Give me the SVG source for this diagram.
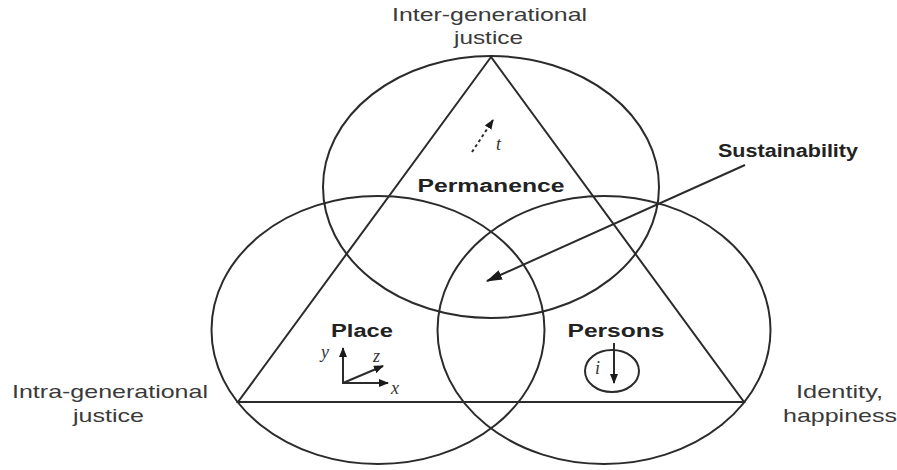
<svg xmlns="http://www.w3.org/2000/svg" width="897" height="470" viewBox="0 0 897 470">
<style>
.ln{fill:none;stroke:#2b2b2b;stroke-width:2}
.lab{font-family:"Liberation Sans",Arial,sans-serif;font-size:19px;fill:#3a3a3a}
.bold{font-family:"Liberation Sans",Arial,sans-serif;font-size:18px;font-weight:bold;fill:#222}
.it{font-family:"Liberation Serif","Times New Roman",serif;font-style:italic;font-size:18px;fill:#333}
</style>
<defs>
<marker id="ah" markerUnits="userSpaceOnUse" markerWidth="16" markerHeight="12" refX="15" refY="5" orient="auto" viewBox="0 0 16 10">
<path d="M0,0 L16,5 L0,10 Z" fill="#1a1a1a"/>
</marker>
<marker id="sm" markerUnits="userSpaceOnUse" markerWidth="10" markerHeight="8" refX="9" refY="4" orient="auto" viewBox="0 0 10 8">
<path d="M0,0 L10,4 L0,8 Z" fill="#1a1a1a"/>
</marker>
</defs>
<rect width="897" height="470" fill="#fff"/>
<g id="circles">
<ellipse id="circle-top" class="ln" cx="491" cy="187" rx="168" ry="131"/>
<ellipse id="circle-left" class="ln" cx="378" cy="330" rx="166.5" ry="134"/>
<ellipse id="circle-right" class="ln" cx="604" cy="330" rx="166.5" ry="134"/>
</g>
<g id="triangle">
<path class="ln" d="M491,57 L238,402 L744,402 Z" stroke-linejoin="miter"/>
</g>
<g id="connectors">
<line class="ln" x1="745" y1="165" x2="487" y2="281" marker-end="url(#ah)"/>
</g>
<g id="node-permanence">
<line x1="472" y1="152" x2="493" y2="120" stroke="#2b2b2b" stroke-width="2" stroke-dasharray="3,3" marker-end="url(#sm)"/>
<text class="it" x="496" y="150">t</text>
<text class="bold" x="491" y="192" text-anchor="middle" textLength="147" lengthAdjust="spacingAndGlyphs">Permanence</text>
</g>
<g id="node-place">
<text class="bold" x="362" y="337" text-anchor="middle" textLength="62" lengthAdjust="spacingAndGlyphs">Place</text>
<line class="ln" x1="343" y1="384" x2="343" y2="348" marker-end="url(#sm)"/>
<line class="ln" x1="342" y1="383" x2="388" y2="383" marker-end="url(#sm)"/>
<line class="ln" x1="343" y1="383" x2="383" y2="366" marker-end="url(#sm)"/>
<text class="it" x="321" y="358">y</text>
<text class="it" x="391" y="394">x</text>
<text class="it" x="373" y="362">z</text>
</g>
<g id="node-persons">
<text class="bold" x="616" y="337" text-anchor="middle" textLength="97" lengthAdjust="spacingAndGlyphs">Persons</text>
<ellipse class="ln" cx="612" cy="371" rx="27" ry="21"/>
<line class="ln" x1="614" y1="343" x2="614" y2="383" marker-end="url(#sm)"/>
<text class="it" x="595" y="374">i</text>
</g>
<g id="node-sustainability">
<text class="bold" x="788" y="157" text-anchor="middle" textLength="140" lengthAdjust="spacingAndGlyphs">Sustainability</text>
</g>
<g id="label-inter">
<text class="lab" x="489.5" y="21" text-anchor="middle" textLength="195" lengthAdjust="spacingAndGlyphs">Inter-generational</text>
<text class="lab" x="488.5" y="44" text-anchor="middle" textLength="69" lengthAdjust="spacingAndGlyphs">justice</text>
</g>
<g id="label-intra">
<text class="lab" x="110" y="398" text-anchor="middle" textLength="196" lengthAdjust="spacingAndGlyphs">Intra-generational</text>
<text class="lab" x="108.5" y="422" text-anchor="middle" textLength="71" lengthAdjust="spacingAndGlyphs">justice</text>
</g>
<g id="label-identity">
<text class="lab" x="839.5" y="398" text-anchor="middle" textLength="87" lengthAdjust="spacingAndGlyphs">Identity,</text>
<text class="lab" x="840" y="422" text-anchor="middle" textLength="114" lengthAdjust="spacingAndGlyphs">happiness</text>
</g>
</svg>
